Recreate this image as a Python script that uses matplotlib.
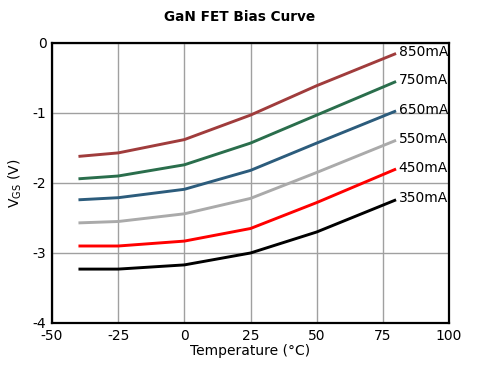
import matplotlib.pyplot as plt

plt.rcParams['axes.unicode_minus'] = False

temps = [-40, -25, 0, 25, 50, 80]
labels = ['850mA', '750mA', '650mA', '550mA', '450mA', '350mA']
vgs_850 = [-1.62, -1.57, -1.38, -1.03, -0.61, -0.15]
vgs_750 = [-1.94, -1.90, -1.74, -1.43, -1.03, -0.55]
vgs_650 = [-2.24, -2.21, -2.09, -1.82, -1.43, -0.97]
vgs_550 = [-2.57, -2.55, -2.44, -2.22, -1.85, -1.39]
vgs_450 = [-2.90, -2.90, -2.83, -2.65, -2.28, -1.80]
vgs_350 = [-3.23, -3.23, -3.17, -3.00, -2.70, -2.24]
colors = ['#A03C3C', '#2A6E4C', '#2C5C7C', '#AAAAAA', '#FF0000', '#000000']

series = [vgs_850, vgs_750, vgs_650, vgs_550, vgs_450, vgs_350]

fig = plt.figure(figsize=(4.79, 3.77), dpi=100)
ax = fig.add_axes([52/479, 1-323/377, 397/479, 280/377])

for y, c, lab in zip(series, colors, labels):
    ax.plot(temps, y, color=c, lw=2.1, solid_capstyle='butt')
    ax.text(temps[-1] + 1, y[-1] + 0.02, lab, fontsize=10, va='center', ha='left')

ax.set_xlim(-50, 100)
ax.set_ylim(-4, 0)
ax.set_xticks([-50, -25, 0, 25, 50, 75, 100])
ax.set_yticks([-4, -3, -2, -1, 0])
ax.tick_params(length=0, labelsize=10, pad=4)
ax.grid(color='#A0A0A0', lw=1)
ax.set_axisbelow(True)
for s in ax.spines.values():
    s.set_linewidth(1.6)
ax.set_xlabel('Temperature (°C)', fontsize=10, labelpad=1)
ax.set_ylabel('V$_{\\mathregular{GS}}$ (V)', fontsize=10, labelpad=6)
fig.text(0.5, 1-17/377, 'GaN FET Bias Curve', fontsize=9.8, fontweight='bold', ha='center', va='center')

fig.savefig('out.png', dpi=100)
